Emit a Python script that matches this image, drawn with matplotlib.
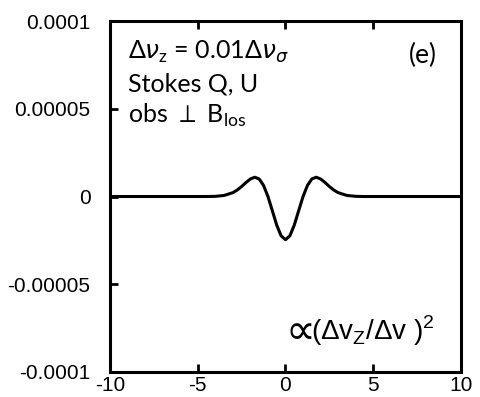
import matplotlib
matplotlib.use("Agg")
from matplotlib import pyplot as plt
import numpy as np

# profile (units of 1e-5)
x_vals = [-10, -5, -4.5, -4, -3.5, -3, -2.75, -2.5, -2.25, -2, -1.75, -1.5, -1.25, -1,
          -0.75, -0.5, -0.25, 0, 0.25, 0.5, 0.75, 1, 1.25, 1.5, 1.75, 2, 2.25, 2.5,
          2.75, 3, 3.5, 4, 4.5, 5, 10]
y_vals = [0, 0, 0.0, 0.01, 0.06, 0.22, 0.37, 0.57, 0.80, 1.00, 1.10, 1.00, 0.63, 0.0,
          -0.81, -1.63, -2.24, -2.46, -2.24, -1.63, -0.81, 0.0, 0.63, 1.00, 1.10, 1.00,
          0.80, 0.57, 0.37, 0.22, 0.06, 0.01, 0.0, 0, 0]

x_ticks = [-10, -5, 0, 5, 10]
y_ticks = [-0.0001, -0.00005, 0, 0.00005, 0.0001]
y_labels = ['-0.0001', '-0.00005', '0', '0.00005', '0.0001']

plt.rcParams['font.family'] = ['Liberation Sans', 'DejaVu Sans']

fig = plt.figure(figsize=(4.81, 3.97), dpi=100)
ax = fig.add_axes([0.2287, 0.063, 0.7297, 0.884])

ax.plot(x_vals, np.array(y_vals) * 1e-5, color='black', lw=2.2)

ax.set_xlim(-10, 10)
ax.set_ylim(-0.0001, 0.0001)
ax.set_xticks(x_ticks)
ax.set_xticklabels([str(t) for t in x_ticks])
ax.set_yticks(y_ticks)
ax.set_yticklabels(y_labels)
ax.tick_params(axis='both', direction='in', length=6, width=2, labelsize=15,
               top=True, right=False, pad=3)
ax.tick_params(axis='y', pad=14)
for s in ax.spines.values():
    s.set_linewidth(2.2)

txt_font = ['Lato', 'DejaVu Sans']
ax.text(0.051, 0.912, r'Δ$\nu_\mathregular{z}$ = 0.01Δ$\nu_\sigma$', transform=ax.transAxes,
        fontsize=18, family=txt_font, va='center', ha='left')
ax.text(0.051, 0.820, 'Stokes Q, U', transform=ax.transAxes,
        fontsize=18, family=txt_font, va='center', ha='left')
ax.text(0.051, 0.732, r'obs $\perp$ B$_\mathregular{los}$', transform=ax.transAxes,
        fontsize=18, family=txt_font, va='center', ha='left')
ax.text(0.892, 0.903, '(e)', transform=ax.transAxes,
        fontsize=19, family=txt_font, va='center', ha='center')
ax.text(0.475, 0.117, r'$\propto$', transform=ax.transAxes, fontsize=30,
        va='center', ha='left')
ax.text(0.572, 0.117, r'(Δv$_\mathregular{Z}$/Δv )$^\mathregular{2}$',
        transform=ax.transAxes, fontsize=20, va='center', ha='left')

fig.savefig('out.png', dpi=100)
